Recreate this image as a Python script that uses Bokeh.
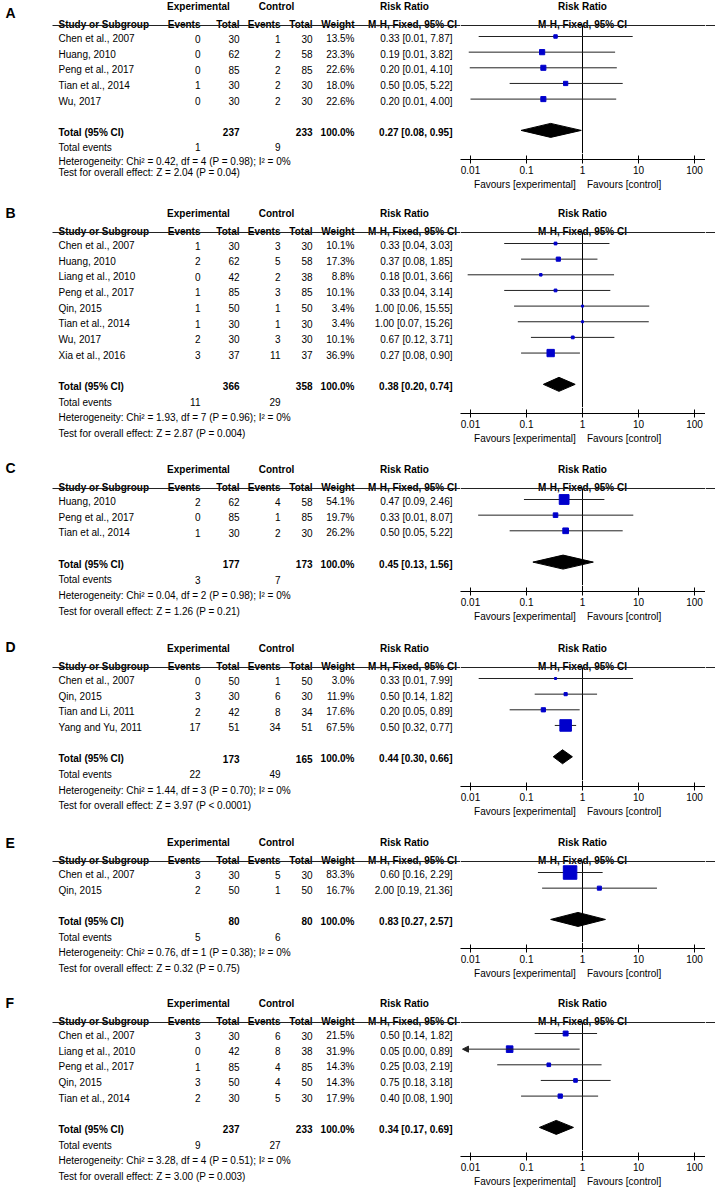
from bokeh.plotting import figure
from bokeh.layouts import column, row
from bokeh.models import Range1d, Span, FixedTicker, CustomJSTickFormatter, Arrow, NormalHead
from bokeh.embed import file_html
from bokeh.resources import INLINE
from bokeh.core.properties import value

# ---------------- data ----------------
PANEL_LABELS = ["A", "B", "C", "D", "E", "F"]
COL_HEADERS = ["Study or Subgroup", "Events", "Total", "Events", "Total", "Weight"]
GROUP_HEADERS = ["Experimental", "Control"]
RR_HEADERS = ["Risk Ratio", "M-H, Fixed, 95% CI"]
TOTAL_LABEL = "Total (95% CI)"
EVENTS_LABEL = "Total events"
TOTAL_WEIGHT = 100.0
TICKS = [0.01, 0.1, 1, 10, 100]
FAVOURS = ["Favours [experimental]", "Favours [control]"]

a_study = ["Chen et al., 2007", "Huang, 2010", "Peng et al., 2017", "Tian et al., 2014", "Wu, 2017"]
a_exp_ev = [0, 0, 0, 1, 0]
a_exp_n = [30, 62, 85, 30, 30]
a_ctl_ev = [1, 2, 2, 2, 2]
a_ctl_n = [30, 58, 85, 30, 30]
a_weight = [13.5, 23.3, 22.6, 18.0, 22.6]
a_rr = [0.33, 0.19, 0.20, 0.50, 0.20]
a_lo = [0.014, 0.0093, 0.0097, 0.05, 0.010]
a_hi = [7.87, 3.82, 4.10, 5.22, 4.00]
a_total_n = [237, 233]
a_total_ev = [1, 9]
a_total_rr = [0.27, 0.08, 0.95]
a_het = "Heterogeneity: Chi\u00b2 = 0.42, df = 4 (P = 0.98); I\u00b2 = 0%"
a_test = "Test for overall effect: Z = 2.04 (P = 0.04)"

b_study = ["Chen et al., 2007", "Huang, 2010", "Liang et al., 2010", "Peng et al., 2017",
           "Qin, 2015", "Tian et al., 2014", "Wu, 2017", "Xia et al., 2016"]
b_exp_ev = [1, 2, 0, 1, 1, 1, 2, 3]
b_exp_n = [30, 62, 42, 85, 50, 30, 30, 37]
b_ctl_ev = [3, 5, 2, 3, 1, 1, 3, 11]
b_ctl_n = [30, 58, 38, 85, 50, 30, 30, 37]
b_weight = [10.1, 17.3, 8.8, 10.1, 3.4, 3.4, 10.1, 36.9]
b_rr = [0.33, 0.37, 0.18, 0.33, 1.00, 1.00, 0.67, 0.27]
b_lo = [0.04, 0.08, 0.0089, 0.04, 0.06, 0.07, 0.12, 0.08]
b_hi = [3.03, 1.85, 3.66, 3.14, 15.55, 15.26, 3.71, 0.90]
b_total_n = [366, 358]
b_total_ev = [11, 29]
b_total_rr = [0.38, 0.20, 0.74]
b_het = "Heterogeneity: Chi\u00b2 = 1.93, df = 7 (P = 0.96); I\u00b2 = 0%"
b_test = "Test for overall effect: Z = 2.87 (P = 0.004)"

c_study = ["Huang, 2010", "Peng et al., 2017", "Tian et al., 2014"]
c_exp_ev = [2, 0, 1]
c_exp_n = [62, 85, 30]
c_ctl_ev = [4, 1, 2]
c_ctl_n = [58, 85, 30]
c_weight = [54.1, 19.7, 26.2]
c_rr = [0.47, 0.33, 0.50]
c_lo = [0.09, 0.0137, 0.05]
c_hi = [2.46, 8.07, 5.22]
c_total_n = [177, 173]
c_total_ev = [3, 7]
c_total_rr = [0.45, 0.13, 1.56]
c_het = "Heterogeneity: Chi\u00b2 = 0.04, df = 2 (P = 0.98); I\u00b2 = 0%"
c_test = "Test for overall effect: Z = 1.26 (P = 0.21)"

d_study = ["Chen et al., 2007", "Qin, 2015", "Tian and Li, 2011", "Yang and Yu, 2011"]
d_exp_ev = [0, 3, 2, 17]
d_exp_n = [50, 30, 42, 51]
d_ctl_ev = [1, 6, 8, 34]
d_ctl_n = [50, 30, 34, 51]
d_weight = [3.0, 11.9, 17.6, 67.5]
d_rr = [0.33, 0.50, 0.20, 0.50]
d_lo = [0.014, 0.14, 0.05, 0.32]
d_hi = [7.99, 1.82, 0.89, 0.77]
d_total_n = [173, 165]
d_total_ev = [22, 49]
d_total_rr = [0.44, 0.30, 0.66]
d_het = "Heterogeneity: Chi\u00b2 = 1.44, df = 3 (P = 0.70); I\u00b2 = 0%"
d_test = "Test for overall effect: Z = 3.97 (P < 0.0001)"

e_study = ["Chen et al., 2007", "Qin, 2015"]
e_exp_ev = [3, 2]
e_exp_n = [30, 50]
e_ctl_ev = [5, 1]
e_ctl_n = [30, 50]
e_weight = [83.3, 16.7]
e_rr = [0.60, 2.00]
e_lo = [0.16, 0.19]
e_hi = [2.29, 21.36]
e_total_n = [80, 80]
e_total_ev = [5, 6]
e_total_rr = [0.83, 0.27, 2.57]
e_het = "Heterogeneity: Chi\u00b2 = 0.76, df = 1 (P = 0.38); I\u00b2 = 0%"
e_test = "Test for overall effect: Z = 0.32 (P = 0.75)"

f_study = ["Chen et al., 2007", "Liang et al., 2010", "Peng et al., 2017", "Qin, 2015", "Tian et al., 2014"]
f_exp_ev = [3, 0, 1, 3, 2]
f_exp_n = [30, 42, 85, 50, 30]
f_ctl_ev = [6, 8, 4, 4, 5]
f_ctl_n = [30, 38, 85, 50, 30]
f_weight = [21.5, 31.9, 14.3, 14.3, 17.9]
f_rr = [0.50, 0.05, 0.25, 0.75, 0.40]
f_lo = [0.14, 0.00, 0.03, 0.18, 0.08]
f_hi = [1.82, 0.89, 2.19, 3.18, 1.90]
f_total_n = [237, 233]
f_total_ev = [9, 27]
f_total_rr = [0.34, 0.17, 0.69]
f_het = "Heterogeneity: Chi\u00b2 = 3.28, df = 4 (P = 0.51); I\u00b2 = 0%"
f_test = "Test for overall effect: Z = 3.00 (P = 0.003)"

PANELS = [
    (a_study, a_exp_ev, a_exp_n, a_ctl_ev, a_ctl_n, a_weight, a_rr, a_lo, a_hi, a_total_n, a_total_ev, a_total_rr, a_het, a_test),
    (b_study, b_exp_ev, b_exp_n, b_ctl_ev, b_ctl_n, b_weight, b_rr, b_lo, b_hi, b_total_n, b_total_ev, b_total_rr, b_het, b_test),
    (c_study, c_exp_ev, c_exp_n, c_ctl_ev, c_ctl_n, c_weight, c_rr, c_lo, c_hi, c_total_n, c_total_ev, c_total_rr, c_het, c_test),
    (d_study, d_exp_ev, d_exp_n, d_ctl_ev, d_ctl_n, d_weight, d_rr, d_lo, d_hi, d_total_n, d_total_ev, d_total_rr, d_het, d_test),
    (e_study, e_exp_ev, e_exp_n, e_ctl_ev, e_ctl_n, e_weight, e_rr, e_lo, e_hi, e_total_n, e_total_ev, e_total_rr, e_het, e_test),
    (f_study, f_exp_ev, f_exp_n, f_ctl_ev, f_ctl_n, f_weight, f_rr, f_lo, f_hi, f_total_n, f_total_ev, f_total_rr, f_het, f_test),
]

# ---------------- layout / style ----------------
FONT = "Liberation Sans"
FS = "10px"
LINE = "#222222"
BLUE = "#0000CC"
STEP = 15.65
HEADER_Y = [25, 232, 488, 667, 861, 1022]
PANEL_TOP = [0, 204, 460, 639, 833, 994]
PANEL_BOTTOM = 1189
LABEL_Y = [12, 212, 467, 643, 842, 1002]
FOOT_OFF = [[15, 29, 40]] + [[STEP, 2 * STEP, 3 * STEP]] * 5
AXIS_FRAME = 6
LEFT_X0, SPLIT_X, AXIS_X1, PAGE_X1 = 0, 460, 705, 715
NULL_X, DECADE = 582, 56.0
X_LABEL = 5
X_STUDY, X_EXP_EV, X_EXP_N, X_CTL_EV, X_CTL_N, X_WT, X_CI = 58, 200, 239, 280, 312, 354, 452
X_EXP_HDR, X_CTL_HDR, X_RR1, X_RR2, X_LINE0 = 198, 276, 404, 412, 52
XLO = 10 ** ((SPLIT_X - NULL_X) / DECADE)
XHI = 10 ** ((AXIS_X1 - NULL_X) / DECADE)
ARROW_END = 10 ** ((SPLIT_X + 2 - NULL_X) / DECADE)


def fmt_ci(r, l, h):
    return f"{r:.2f} [{l:.2f}, {h:.2f}]"


def txt(p, xs, ys, texts, align="left", bold=False, baseline="middle", size=FS):
    p.text(x=list(xs), y=list(ys), text=list(texts), text_font=value(FONT), text_font_size=size,
           text_align=align, text_baseline=baseline,
           text_font_style="bold" if bold else "normal", text_color="#000000")


def bare(p):
    p.grid.visible = False
    p.outline_line_color = None
    p.background_fill_color = "white"
    p.border_fill_color = "white"
    return p


def build(k):
    (study, eev, en, cev, cn, wt, rr, lo, hi, tot_n, tot_ev, tot_rr, het, test) = PANELS[k]
    L = HEADER_Y[k]
    T = PANEL_TOP[k]
    B = PANEL_TOP[k + 1] if k + 1 < len(PANEL_TOP) else PANEL_BOTTOM
    H = B - T
    n = len(study)
    ys = [L + 11 + STEP * i for i in range(n)]
    y_tot = L + 11 + STEP * (n + 1)
    y_te, y_het, y_test = [y_tot + d for d in FOOT_OFF[k]]
    axis_y = round(y_tot + 29.5)
    a0 = axis_y - AXIS_FRAME
    TY = 2

    # ---- left: the table ----
    left = bare(figure(width=SPLIT_X - LEFT_X0, height=H, x_range=Range1d(LEFT_X0, SPLIT_X),
                       y_range=Range1d(B, T), toolbar_location=None, output_backend="svg",
                       x_axis_location=None, y_axis_location=None, min_border=0, title_location=None))
    txt(left, [X_LABEL], [max(LABEL_Y[k], T + 7)], [PANEL_LABELS[k]], bold=True, size="14px")
    txt(left, [X_EXP_HDR, X_CTL_HDR], [L - 19] * 2, GROUP_HEADERS, align="center", bold=True)
    txt(left, [X_RR1], [L - 19], [RR_HEADERS[0]], align="center", bold=True)
    txt(left, [X_STUDY], [L - 1], [COL_HEADERS[0]], bold=True, baseline="alphabetic")
    txt(left, [X_EXP_EV, X_EXP_N, X_CTL_EV, X_CTL_N, X_WT], [L - 1] * 5, COL_HEADERS[1:],
        align="right", bold=True, baseline="alphabetic")
    txt(left, [X_RR2], [L - 1], [RR_HEADERS[1]], align="center", bold=True, baseline="alphabetic")
    left.segment(x0=[X_LINE0], x1=[SPLIT_X], y0=[L], y1=[L], line_color=LINE, line_width=1)

    ty = [y + TY for y in ys]
    txt(left, [X_STUDY] * n, ty, study)
    for col_x, vals in ((X_EXP_EV, eev), (X_EXP_N, en), (X_CTL_EV, cev), (X_CTL_N, cn)):
        txt(left, [col_x] * n, ty, [str(v) for v in vals], align="right")
    txt(left, [X_WT] * n, ty, [f"{w:.1f}%" for w in wt], align="right")
    txt(left, [X_CI] * n, ty, [fmt_ci(rr[i], lo[i], hi[i]) for i in range(n)], align="right")

    yt = y_tot + TY
    txt(left, [X_STUDY], [yt], [TOTAL_LABEL], bold=True)
    txt(left, [X_EXP_N, X_CTL_N, X_WT], [yt] * 3,
        [str(tot_n[0]), str(tot_n[1]), f"{TOTAL_WEIGHT:.1f}%"], align="right", bold=True)
    txt(left, [X_CI], [yt], [fmt_ci(*tot_rr)], align="right", bold=True)
    txt(left, [X_STUDY], [y_te + TY], [EVENTS_LABEL])
    txt(left, [X_EXP_EV, X_CTL_EV], [y_te + TY] * 2, [str(tot_ev[0]), str(tot_ev[1])], align="right")
    txt(left, [X_STUDY, X_STUDY], [y_het + TY, y_test + TY], [het, test])

    # ---- right top: the forest ----
    rt = bare(figure(width=AXIS_X1 - SPLIT_X, height=a0 - T, x_axis_type="log",
                     x_range=Range1d(XLO, XHI), y_range=Range1d(a0, T),
                     toolbar_location=None, output_backend="svg", x_axis_location=None,
                     y_axis_location=None, min_border=0, title_location=None))
    rt.add_layout(Span(location=L, dimension="width", line_color=LINE, line_width=1))
    rt.segment(x0=[1], x1=[1], y0=[L], y1=[a0], line_color="#000000", line_width=1)
    txt(rt, [1], [L - 19], [RR_HEADERS[0]], align="center", bold=True)
    txt(rt, [1], [L - 1], [RR_HEADERS[1]], align="center", bold=True, baseline="alphabetic")

    ok = [i for i in range(n) if lo[i] > 0]
    rt.segment(x0=[lo[i] for i in ok], x1=[hi[i] for i in ok],
               y0=[ys[i] for i in ok], y1=[ys[i] for i in ok], line_color=LINE, line_width=1)
    for i in range(n):
        if lo[i] <= 0:
            rt.add_layout(Arrow(end=NormalHead(size=6, fill_color=LINE, line_color=LINE, line_width=1),
                                x_start=hi[i], y_start=ys[i], x_end=ARROW_END, y_end=ys[i],
                                line_color=LINE, line_width=1))
    rt.scatter(x=rr, y=ys, size=[max(2.0, 0.49 * w ** 0.75) for w in wt], marker="square",
               fill_color=BLUE, line_color=BLUE)
    rt.patch(x=[tot_rr[1], tot_rr[0], tot_rr[2], tot_rr[0]],
             y=[y_tot, y_tot - 7, y_tot, y_tot + 7], fill_color="#000000", line_color="#000000")

    # ---- right bottom: the axis ----
    hb = B - a0
    rb = bare(figure(width=AXIS_X1 - SPLIT_X, height=hb, x_axis_type="log",
                     x_range=Range1d(XLO, XHI), y_range=Range1d(axis_y, a0),
                     toolbar_location=None, output_backend="svg", y_axis_location=None,
                     x_axis_location="below", min_border_left=0, min_border_right=0,
                     min_border_top=0, min_border_bottom=hb - AXIS_FRAME, title_location=None))
    rb.segment(x0=[1], x1=[1], y0=[a0], y1=[axis_y], line_color="#000000", line_width=1)
    ax = rb.xaxis[0]
    ax.ticker = FixedTicker(ticks=TICKS, minor_ticks=[])
    ax.formatter = CustomJSTickFormatter(code="return tick.toString();")
    ax.major_tick_in = 4
    ax.major_tick_out = 4
    ax.minor_tick_line_color = None
    ax.axis_line_color = "#000000"
    ax.major_tick_line_color = "#000000"
    ax.major_label_text_font = FONT
    ax.major_label_text_font_size = FS
    ax.major_label_text_color = "#000000"
    ax.major_label_standoff = 2
    ax.axis_label = FAVOURS[0] + "\u00a0" * 4 + FAVOURS[1] + "\u00a0" * 11
    ax.axis_label_text_font = FONT
    ax.axis_label_text_font_size = FS
    ax.axis_label_text_font_style = "normal"
    ax.axis_label_text_color = "#000000"
    ax.axis_label_standoff = 2

    # ---- far right strip: end of the header rule ----
    rx = bare(figure(width=PAGE_X1 - AXIS_X1, height=H, x_range=Range1d(AXIS_X1, PAGE_X1),
                     y_range=Range1d(B, T), toolbar_location=None, output_backend="svg",
                     x_axis_location=None, y_axis_location=None, min_border=0, title_location=None))
    rx.segment(x0=[AXIS_X1], x1=[PAGE_X1], y0=[L], y1=[L], line_color=LINE, line_width=1)
    return row(column(left), column(rt, rb), column(rx))


layout = column(*[build(k) for k in range(6)])
open("out.html", "w").write(file_html(layout, INLINE))
